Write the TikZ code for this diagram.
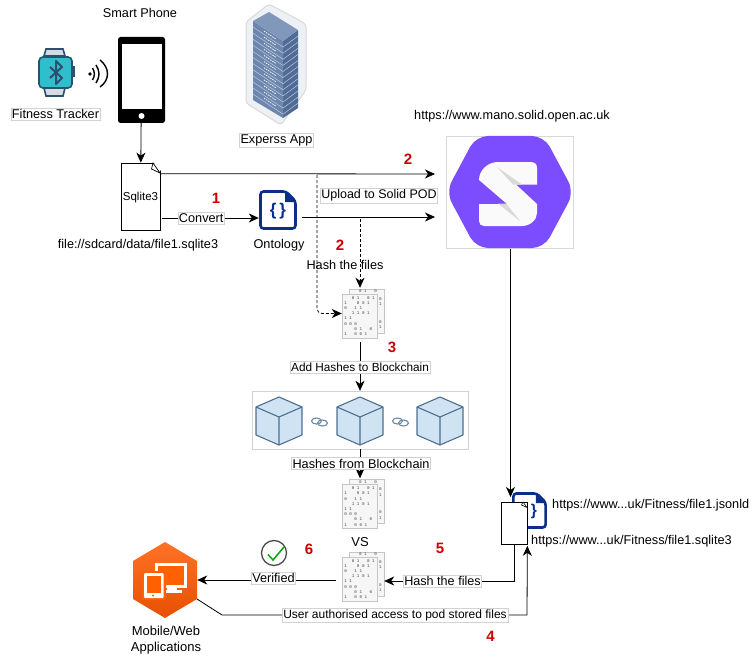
\documentclass[tikz,border=0pt]{standalone}
\usepackage{fontspec}
\setmainfont{Liberation Sans}
\setmonofont{Liberation Mono}
\usepackage{xcolor}
\usepackage{tikz}
\usetikzlibrary{shapes,arrows,arrows.meta,positioning}
\definecolor{tealwatch}{HTML}{2FBFCC}
\definecolor{darkwatch}{HTML}{2C5170}
\definecolor{navydoc}{HTML}{0A2E8A}
\definecolor{solidpurple}{HTML}{7C4DFF}
\definecolor{cubeblue}{HTML}{CFE3F3}
\definecolor{cubeedge}{HTML}{4D6F8F}
\definecolor{rackblue}{HTML}{6C86AE}
\definecolor{rackdark}{HTML}{4F6B96}
\definecolor{stepred}{HTML}{CC0000}
\tikzstyle{line} = [draw, line width=0.8pt, -{Stealth[length=10pt,width=9pt,inset=3pt]}]
\tikzstyle{plain} = [draw, line width=0.8pt]
\tikzstyle{dashline} = [line, dash pattern=on 3pt off 2pt]
\tikzstyle{caption} = [font=\fontsize{12.7}{15}\selectfont, inner sep=0pt, align=center]
\tikzstyle{tag} = [caption, draw=gray!35, fill=white, inner xsep=1pt, inner ysep=1.5pt]
\tikzstyle{stepnum} = [font=\fontsize{15}{15}\selectfont\bfseries, text=stepred, inner sep=0pt]
\tikzstyle{notefile} = [rectangle, draw, fill=white, line width=0.7pt, inner sep=0pt]
\tikzstyle{holder} = [rectangle, inner sep=0pt]
\tikzstyle{hashholder} = [holder, minimum width=42pt, minimum height=51pt]
\tikzstyle{bits} = [inner sep=0pt, align=left, text=black!75, font=\fontsize{4.2}{5.2}\selectfont\ttfamily]
\newcommand{\hashbits}{~~~0~1~~~0~1\\1~~~~0~0~1\\0~~~1~1\\~~~1~1~0~1\\1~1\\0~0~0\\~~~~0~1~~~0\\1~~~0~0~1}
\tikzset{
    hashdoc/.pic={
        \draw [gray!45, fill=gray!7] (-14,-24.5) rectangle (21,19.5);
        \node [bits] at (5,-22) {0~1~~~0};
        \draw [gray!45, fill=gray!7] (-21,-19.5) rectangle (14,24.5);
        \node [bits] at (17.5,-12) {0\\1};
        \node [bits] at (17.5,11) {0\\1};
        \node [bits] at (-3.5,2.5) {\hashbits};
    },
    jsonicon/.pic={
        \draw [navydoc, line width=2.6pt, fill=white, rounded corners=3pt] (-17.5,-18.5) -- (8,-18.5) -- (17.5,-9) -- (17.5,18.5) -- (-17.5,18.5) -- cycle;
        \fill [navydoc] (7,-18.5) -- (17.5,-8) -- (7,-8) -- cycle;
        \node [transform shape, text=navydoc, inner sep=0pt, font=\fontsize{17}{17}\selectfont\bfseries] at (0,1) {\{\,\}};
    },
    cube/.pic={
        \draw [cubeedge, line width=1.1pt, fill=cubeblue, line join=round] (0,-24) -- (23,-14) -- (23,14) -- (0,24) -- (-23,14) -- (-23,-14) -- cycle;
        \draw [cubeedge, line width=1.1pt, line join=round] (-23,-14) -- (0,-4) -- (23,-14) (0,-4) -- (0,24);
    },
    chainlink/.pic={
        \draw [cubeedge!80, line width=1.1pt] (-3,-1) ellipse [x radius=5pt, y radius=3pt];
        \draw [cubeedge!80, line width=1.1pt] (3,1) ellipse [x radius=5pt, y radius=3pt];
    }
}

\begin{document}
\begin{tikzpicture}[x=1pt, y=-1pt]
    \useasboundingbox (0,0) rectangle (752,658);

    \node [holder, minimum width=62pt, minimum height=49pt] (tracker) at (56,73) {};
    \draw [darkwatch, line width=1.6pt, fill=darkwatch!20] (44,56) -- (46,49) -- (63,49) -- (65,56) -- cycle;
    \draw [darkwatch, line width=1.6pt, fill=darkwatch!20] (44,88) -- (46,96) -- (63,96) -- (65,88) -- cycle;
    \fill [darkwatch] (72,66) rectangle (75,77);
    \draw [darkwatch, line width=1.6pt, fill=tealwatch, rounded corners=4pt] (39,57) rectangle (72,88);
    \draw [darkwatch, line width=2pt, line join=round] (50,67) -- (62,78) -- (56,84) -- (56,61) -- (62,67) -- (50,78);
    \fill [black] (90,74) circle (1.8pt);
    \draw [black, line width=1.4pt] (92.5,68) .. controls (95,72) and (95,76) .. (92.5,80);
    \draw [black, line width=1.4pt] (96,65) .. controls (100,71) and (100,77) .. (96,83);
    \draw [black, line width=1.4pt] (100,60) .. controls (110,68) and (110,80) .. (100,87);
    \node [caption, tag] (trackerlabel) at (55.5,114) {Fitness Tracker};

    \node [caption] (phonelabel) at (140,12.5) {Smart Phone};
    \node [rectangle, fill=black, rounded corners=2.5pt, minimum width=47pt, minimum height=86pt, inner sep=0pt] (phone) at (141.5,80) {};
    \fill [white] (121.5,44) rectangle (161.5,109);
    \fill [white] (141.5,116) circle (3pt);

    \draw [gray!30, line width=1pt, fill=rackblue!12, rounded corners=3pt] (269,4) -- (306,24) -- (306,90) -- (281,125) -- (246,103) -- (246,22) -- cycle;
    \fill [rackdark] (283,41) -- (298,30) -- (298,108) -- (283,118) -- cycle;
    \fill [rackblue] (253,21) -- (283,41) -- (283,118) -- (253,100) -- cycle;
    \fill [rackblue!85] (253,21) -- (269,12) -- (298,30) -- (283,41) -- cycle;
    \foreach \u in {1,...,12} {
        \draw [rackblue!45!white, line width=0.5pt] (253,21+\u*6.1) -- (283,41+\u*6.1) -- (298,30+\u*6.1);
        \draw [white, line width=0.7pt, dash pattern=on 1.5pt off 1pt] (264,25+\u*6.1) -- (276,33+\u*6.1);
    }
    \node [caption, tag] (expressapp) at (276.5,140) {Experss App};

    \node [notefile, minimum width=39pt, minimum height=67pt] (sqlite) at (140.5,196.5) {};
    \fill [white] (153,162) -- (161,162) -- (161,171) -- cycle;
    \draw [line width=0.7pt, fill=white] (153,163) -- (151.5,169) -- (160,173) -- cycle;
    \node [font=\fontsize{11.5}{13}\selectfont, inner sep=0pt] (sqlitelabel) at (140.5,197.5) {Sqlite3};
    \node [caption] (sdcard) at (138,245) {file://sdcard/data/file1.sqlite3};

    \node [holder, minimum width=38pt, minimum height=40pt] (ontology) at (278,210) {};
    \pic at (ontology.center) {jsonicon};
    \node [caption] (ontologylabel) at (279,245.5) {Ontology};

    \node [rectangle, draw=gray!30, fill=white, minimum width=127pt, minimum height=112pt, inner sep=0pt] (solidpod) at (509.5,192) {};
    \fill [solidpurple, rounded corners=12pt] (446,192) -- (476,136) -- (544,136) -- (574,192) -- (544,248) -- (476,248) -- cycle;
    \fill [white!96!gray] (498,162) -- (530,162) .. controls (535,162) and (537,164) .. (537,168) -- (537,184.5) -- (516,184.5) -- (537,204) -- (537,213) .. controls (537,220) and (530,226) .. (522,226) -- (484,226) .. controls (481,226) and (479,224) .. (479,221) -- (479,204) -- (507,204) -- (479,180) .. controls (479,170) and (488,162) .. (498,162) -- cycle;
    \fill [gray!30] (497,167) -- (522,184.5) -- (513,184.5) -- cycle;
    \fill [gray!30] (498,203.5) -- (506,203.5) -- (520,221) -- cycle;
    \node [caption] (solidurl) at (512,116.5) {https://www.mano.solid.open.ac.uk};

    \coordinate (sqlitearrow) at (435,174);
    \coordinate (ontoarrow) at (435,217);
    \coordinate (dashtop) at (317,175);
    \coordinate (hashtop) at (360,219);
    \path [line] (phone) -- (sqlite);
    \path [line] ([yshift=-11pt]sqlite.north east) -- (sqlitearrow);
    \path [line, shorten <=2pt] (sqlite.east |- 0,218) -- node [tag, pos=0.415] (convertlabel) {Convert} (ontology.west |- 0,218);
    \path [line, shorten <=5pt] (ontology.east |- ontoarrow) -- (ontoarrow);
    \node [tag, font=\fontsize{12.5}{15}\selectfont] (uploadlabel) at (379,195.5) {Upload to Solid POD};

    \node [hashholder] (hashone) at (363,313.5) {};
    \pic at (hashone.center) {hashdoc};
    \path [dashline, rounded corners=5pt] (dashtop) |- (hashone.west);
    \path [dashline] (hashtop) -- (hashone.north -| hashtop);
    \node [caption] (hashfilesone) at (345,265) {Hash the files};

    \node [rectangle, draw=gray!35, fill=white, minimum width=216pt, minimum height=58pt, inner sep=0pt] (blockchain) at (360,420) {};
    \pic at (279,421) {cube};
    \pic at (360,421) {cube};
    \pic at (440,421) {cube};
    \pic at (319.5,422) {chainlink};
    \pic at (400.5,422) {chainlink};
    \path [line] (hashone.south -| blockchain.north) ++(0,3) -- (blockchain.north);
    \node [tag, font=\fontsize{11.8}{15}\selectfont] (addhashes) at (360,367) {Add Hashes to Blockchain};

    \node [hashholder] (hashtwo) at (363,504) {};
    \pic at (hashtwo.center) {hashdoc};
    \path [line] (blockchain.south) -- (hashtwo.north -| blockchain.south);
    \node [tag] (hashesfrom) at (361,463.5) {Hashes from Blockchain};
    \node [caption, font=\fontsize{13}{15}\selectfont] (vslabel) at (360,542) {VS};

    \node [hashholder] (hashthree) at (363,576.5) {};
    \pic at (hashthree.center) {hashdoc};

    \pic [scale=0.92] at (529.5,510.5) {jsonicon};
    \node [notefile, minimum width=26pt, minimum height=42pt] (podfile) at (514,523) {};
    \draw [line width=0.6pt, fill=white] (523,502) -- (521.5,505) -- (527,507.5) -- cycle;
    \node [caption, anchor=west] (jsonurl) at (552,505.5) {https://www...uk/Fitness/file1.jsonld};
    \node [caption, anchor=west] (sqliteurl) at (531,541) {https://www...uk/Fitness/file1.sqlite3};

    \path [line] (solidpod.south -| 510.5,0) ++(0,1) -- (510.5,497);

    \node [holder, minimum width=64pt, minimum height=76pt] (mobileapp) at (165,580) {};
    \shade [top color=orange!70!red!85!white, bottom color=orange!70!red!90!black] (165,542) -- (197,561) -- (197,599) -- (165,618) -- (133,599) -- (133,561) -- cycle;
    \fill [white] (155,563) rectangle (187,588);
    \fill [orange!75!red] (158,566) rectangle (184,585);
    \fill [white] (167,588) rectangle (177,591);
    \fill [white] (162,590) rectangle (182,593);
    \fill [orange!75!red] (142,571) rectangle (165.5,600);
    \fill [white, rounded corners=1pt] (144,573) rectangle (163.5,598);
    \fill [orange!75!red] (147,576) rectangle (160.5,593);
    \fill [orange!75!red] (153,595.5) circle (1.2pt);
    \node [caption, font=\fontsize{13}{16}\selectfont] (mobilelabel) at (166,640) {Mobile/Web\\Applications};

    \coordinate (verifiedstart) at (336,580);
    \coordinate (usercorner) at (222,615);
    \coordinate (podcorner) at (527,615);
    \coordinate (hashcorner) at (514,581);
    \path [line] (verifiedstart) -- (mobileapp.east |- verifiedstart);
    \path [line] (podfile.south -| hashcorner) -- (hashcorner) -- (hashthree.east |- hashcorner);
    \path [plain] (197,599) -- (usercorner) -- (podcorner);
    \path [line] (podcorner) -- ([yshift=-1.5pt]podfile.south east);
    \node [tag] (verifiedlabel) at (273.5,578) {Verified};
    \node [tag, font=\fontsize{12.6}{15}\selectfont] (hashfilestwo) at (442.5,581) {Hash the files};
    \node [tag, font=\fontsize{12}{15}\selectfont] (useraccess) at (395,615) {User authorised access to pod stored files};
    \draw [black!70, line width=1.3pt, fill=white] (274,553) circle (12.5pt);
    \draw [green!65!black, line width=1.5pt] (268,554.5) -- (273,560) -- (284,547);

    \node [stepnum] (stepone) at (216,198) {1};
    \node [stepnum] (steptwoa) at (408,159.5) {2};
    \node [stepnum] (steptwob) at (340,245) {2};
    \node [stepnum] (stepthree) at (392,347) {3};
    \node [stepnum] (stepfour) at (490.5,636) {4};
    \node [stepnum] (stepfive) at (440,548) {5};
    \node [stepnum] (stepsix) at (309,549) {6};
\end{tikzpicture}
\end{document}
